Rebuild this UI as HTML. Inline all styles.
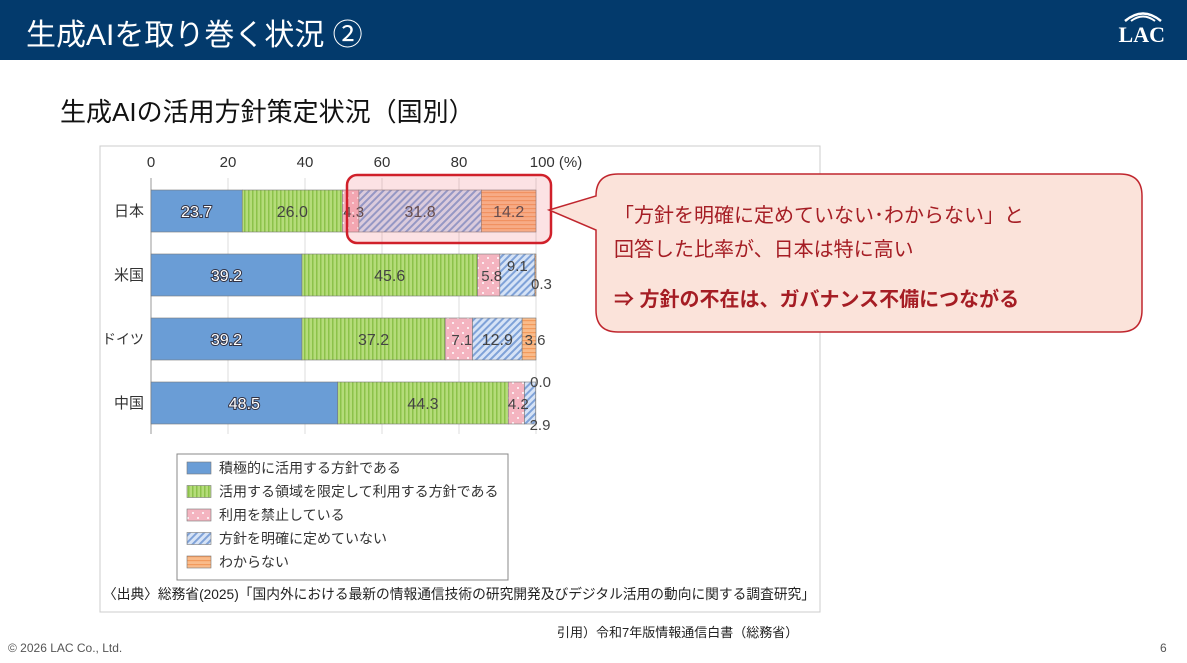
<!DOCTYPE html>
<html><head><meta charset="utf-8">
<style>
body{margin:0;width:1187px;height:663px;background:#fff;position:relative;overflow:hidden;font-family:"Liberation Sans","Noto Sans CJK JP",sans-serif;}
.hdr{position:absolute;left:0;top:0;width:1187px;height:60px;background:#033a6c;}
.hdr h1{position:absolute;left:26px;top:10px;margin:0;color:#fff;font-size:30px;font-weight:normal;}
.logo{position:absolute;right:22px;top:8px;color:#fff;font-family:"Liberation Serif",serif;font-weight:bold;font-size:22px;}
.sub{position:absolute;left:60px;top:92px;font-size:26px;color:#111;}
.foot{position:absolute;font-size:12px;color:#555;}
</style></head><body>
<div class="hdr">
<h1>生成AIを取り巻く状況 ②</h1>
<div class="logo"><svg width="44" height="14" style="display:block;margin-left:2px"><path d="M4 13 Q22 -2 40 13" stroke="#fff" stroke-width="2.5" fill="none"/><path d="M10 13 Q22 4 34 13" stroke="#fff" stroke-width="2" fill="none"/></svg>LAC</div>
</div>
<div class="sub">生成AIの活用方針策定状況（国別）</div>
<svg id="chart" width="1187" height="663" style="position:absolute;left:0;top:0">
<defs>
<pattern id="pG" width="4" height="4" patternUnits="userSpaceOnUse"><rect width="4" height="4" fill="#b5dc7a"/><rect width="1.5" height="4" fill="#8cc24a"/></pattern>
<pattern id="pP" width="10" height="10" patternUnits="userSpaceOnUse"><rect width="10" height="10" fill="#f4b4c0"/><circle cx="3" cy="3" r="1" fill="#fff"/><circle cx="8" cy="8" r="1" fill="#fff"/></pattern>
<pattern id="pB" width="5" height="5" patternUnits="userSpaceOnUse" patternTransform="rotate(45)"><rect width="5" height="5" fill="#d6e3f6"/><rect width="2" height="5" fill="#7fa2d8"/></pattern>
<pattern id="pO" width="4" height="4" patternUnits="userSpaceOnUse"><rect width="4" height="4" fill="#f9bb8a"/><rect width="4" height="1.2" fill="#f29a5c"/></pattern>
</defs>
<rect x="100" y="146" width="720" height="466" fill="#fff" stroke="#ccc"/>
<g id="plot"></g>
<rect x="177" y="454" width="331" height="126" fill="#fff" stroke="#888"/>
<g id="legend"></g>
<text x="103" y="599" font-size="14" textLength="712" lengthAdjust="spacingAndGlyphs" fill="#222">〈出典〉総務省(2025)「国内外における最新の情報通信技術の研究開発及びデジタル活用の動向に関する調査研究」</text>
<rect x="347" y="175" width="204" height="68" rx="10" fill="rgba(240,110,120,0.2)" stroke="#d0202a" stroke-width="2.5"/>
<path d="M618 174 H1120 Q1142 174 1142 196 V310 Q1142 332 1120 332 H618 Q596 332 596 310 V230 L549 210 L596 196 Q596 174 618 174 Z" fill="#fbe3da" stroke="#c0262e" stroke-width="1.5"/>
<text x="614" y="222" font-size="20" fill="#a51d24">「方針を明確に定めていない･わからない」と</text>
<text x="614" y="256" font-size="20" fill="#a51d24">回答した比率が、日本は特に高い</text>
<text x="614" y="306" font-size="20" font-weight="bold" fill="#a51d24">⇒ 方針の不在は、ガバナンス不備につながる</text>
</svg>
<div class="foot" style="left:557px;top:622px;font-size:13px;color:#222">引用）令和7年版情報通信白書（総務省）</div>
<div class="foot" style="left:8px;top:641px">© 2026 LAC Co., Ltd.</div>
<div class="foot" style="left:1160px;top:641px">6</div>
<script>
const countries=["日本","米国","ドイツ","中国"];
const s1=[23.7,39.2,39.2,48.5];
const s2=[26.0,45.6,37.2,44.3];
const s3=[4.3,5.8,7.1,4.2];
const s4=[31.8,9.1,12.9,2.9];
const s5=[14.2,0.3,3.6,0.0];
const ticks=[0,20,40,60,80,100];
const seriesNames=["積極的に活用する方針である","活用する領域を限定して利用する方針である","利用を禁止している","方針を明確に定めていない","わからない"];
const fills=["#6a9dd6","url(#pG)","url(#pP)","url(#pB)","url(#pO)"];
const NS="http://www.w3.org/2000/svg";
const X=v=>151+v*3.85, Y=i=>190+i*64, BH=42;
const g=document.getElementById('plot');
function mk(t,a,p){const e=document.createElementNS(NS,t);for(const k in a)e.setAttribute(k,a[k]);(p||g).appendChild(e);return e;}
ticks.forEach(t=>{
 const l=mk('line',{x1:X(t),x2:X(t),y1:178,y2:434,stroke:'#ddd'});
 
 
 const tx=mk('text',{x:X(t),y:167,'font-size':15,'text-anchor':'middle',fill:'#333'});tx.textContent=t===100?'100 (%)':t;
 if(t===100)tx.setAttribute('x',X(t)+20);
 
 
});
mk('line',{x1:151,x2:151,y1:178,y2:434,stroke:'#999'});
const series=[s1,s2,s3,s4,s5];
countries.forEach((c,i)=>{
 const lb=mk('text',{x:144,y:Y(i)+26,'font-size':c.length>2?14:15,'text-anchor':'end',fill:'#333'});lb.textContent=c;
 
 
 let acc=0;
 series.forEach((s,k)=>{
  const v=s[i];
  const r=mk('rect',{x:X(acc),y:Y(i),width:v*3.85,height:BH,fill:fills[k],stroke:'#777','stroke-width':0.6});
  
  
  const mid=X(acc+v/2);acc+=v;
  if(v>=10){const t=mk('text',{x:mid,y:Y(i)+27,'font-size':16,'text-anchor':'middle',fill:k==0?'#fff':'#444',stroke:k==0?'#334':'none','stroke-width':k==0?2:0,'paint-order':'stroke'});t.textContent=v.toFixed(1);
   
   }
 });
});
const small=[[0,2,3,0],[1,2,3,0],[1,3,0,-10],[1,4,6,8],[2,2,3,0],[2,4,6,0],[3,3,10,21],[3,2,2,0],[3,4,5,-22]];
small.forEach(([i,k,dx,dy])=>{let acc=0;for(let j=0;j<k;j++)acc+=series[j][i];const v=series[k][i];
 const t=mk('text',{x:X(acc+v/2)+dx,y:Y(i)+27+dy,'font-size':15,'text-anchor':'middle',fill:'#444'});t.textContent=v.toFixed(1);
 
 });
const lg=document.getElementById('legend');
seriesNames.forEach((n,k)=>{
 const r=mk('rect',{x:187,y:462+k*23.5,width:24,height:12,fill:fills[k],stroke:'#777','stroke-width':0.6},lg);
 
 
 const t=mk('text',{x:219,y:473+k*23.5,'font-size':14,fill:'#333'},lg);t.textContent=n;
 
 
});
</script>
</body></html>
